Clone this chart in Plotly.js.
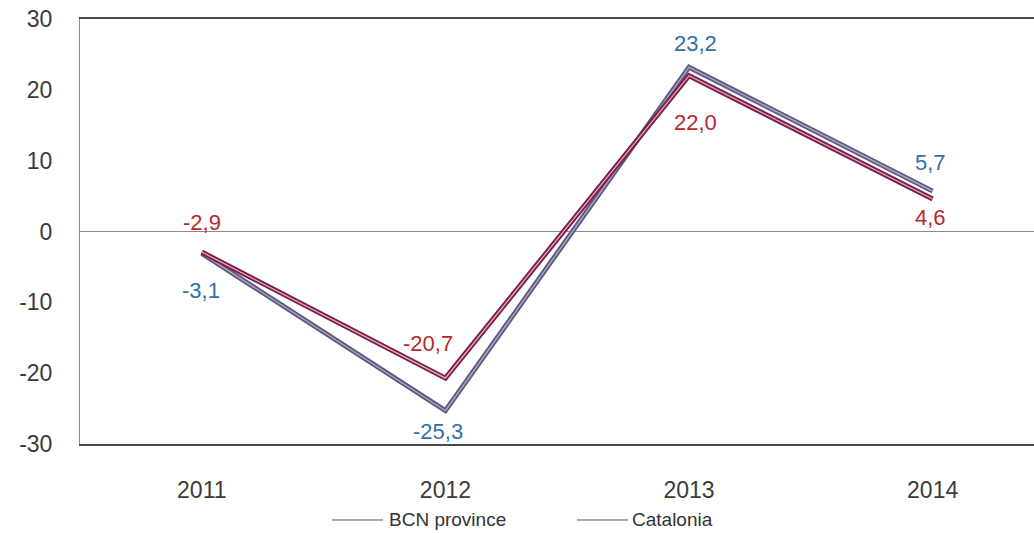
<!DOCTYPE html>
<html>
<head>
<meta charset="utf-8">
<script src="https://cdn.plot.ly/plotly-3.0.1.min.js"></script>
<style>html,body{margin:0;padding:0;background:#fff;}#chart{width:1034px;height:533px;}</style>
</head>
<body>
<div id="chart"></div>
<script>
// ---- data ----
const years = ['2011', '2012', '2013', '2014'];
const seriesNames = ['BCN province', 'Catalonia'];
const bcnValues = [-3.1, -25.3, 23.2, 5.7];
const catValues = [-2.9, -20.7, 22.0, 4.6];
const yTickVals = [-30, -20, -10, 0, 10, 20, 30];

// ---- styling (label offsets in px) ----
const bcnLabelShift = {x: [-1, -7, 6, -2], y: [-37, -21, 24, 29]};
const catLabelShift = {x: [0, -17, 6, -2], y: [30, 35, -47, -19]};
const bcnOuter = '#5f5b80', bcnInner = '#b3aecb', bcnText = '#2f70a8';
const catOuter = '#7b1f4b', catInner = '#e6b4c6', catText = '#b8272d';
const font = 'Arial, "Liberation Sans", sans-serif';

const fmt = v => v.toFixed(1).replace('.', ',');
const idx = years.map((_, i) => i);

const traces = [
  {x: idx, y: bcnValues, mode: 'lines', line: {color: bcnOuter, width: 5}, showlegend: false, hoverinfo: 'skip'},
  {x: idx, y: bcnValues, mode: 'lines', line: {color: bcnInner, width: 1.2}, showlegend: false, hoverinfo: 'skip'},
  {x: idx, y: catValues, mode: 'lines', line: {color: catOuter, width: 5}, showlegend: false, hoverinfo: 'skip'},
  {x: idx, y: catValues, mode: 'lines', line: {color: catInner, width: 1.2}, showlegend: false, hoverinfo: 'skip'}
];

const annotations = [];
idx.forEach(i => {
  annotations.push({x: i, y: bcnValues[i], xref: 'x', yref: 'y', text: fmt(bcnValues[i]), showarrow: false,
    xshift: bcnLabelShift.x[i], yshift: bcnLabelShift.y[i], font: {family: font, size: 22, color: bcnText}});
  annotations.push({x: i, y: catValues[i], xref: 'x', yref: 'y', text: fmt(catValues[i]), showarrow: false,
    xshift: catLabelShift.x[i], yshift: catLabelShift.y[i], font: {family: font, size: 22, color: catText}});
});

// manual legend
const legendY = -0.1788;
const legendItems = [
  {name: seriesNames[0], x0: 0.2642, x1: 0.3176, tx: 0.3218},
  {name: seriesNames[1], x0: 0.5210, x1: 0.5744, tx: 0.5765}
];
const shapes = [];
legendItems.forEach(it => {
  shapes.push({type: 'line', xref: 'paper', yref: 'paper', x0: it.x0, x1: it.x1, y0: legendY, y1: legendY,
    line: {color: '#555', width: 1}});
  annotations.push({xref: 'paper', yref: 'paper', x: it.tx, y: legendY, xanchor: 'left', yanchor: 'middle',
    text: it.name, showarrow: false, font: {family: font, size: 19, color: '#333'}});
});

const layout = {
  width: 1034, height: 533,
  margin: {l: 80, r: 0, t: 19, b: 89, pad: 0},
  paper_bgcolor: '#fff', plot_bgcolor: '#fff',
  showlegend: false,
  xaxis: {type: 'linear', range: [-0.5, 3.416], tickvals: idx, ticktext: years, showgrid: false, zeroline: false,
    showline: true, mirror: true, linecolor: '#4a4a4a', linewidth: 2,
    ticks: '', ticklabelstandoff: 24, tickfont: {family: font, size: 23, color: '#3a3a3a'}, fixedrange: true},
  yaxis: {range: [-30, 30], tickvals: yTickVals, ticktext: yTickVals.map(String), showgrid: false,
    zeroline: true, zerolinecolor: '#8a8a8a', zerolinewidth: 1,
    showline: true, linecolor: '#8a8a8a', linewidth: 1,
    ticks: '', ticklabelstandoff: 22, tickfont: {family: font, size: 23, color: '#3a3a3a'}, fixedrange: true},
  annotations: annotations,
  shapes: shapes
};

Plotly.newPlot('chart', traces, layout, {displayModeBar: false, staticPlot: true});
</script>
</body>
</html>
